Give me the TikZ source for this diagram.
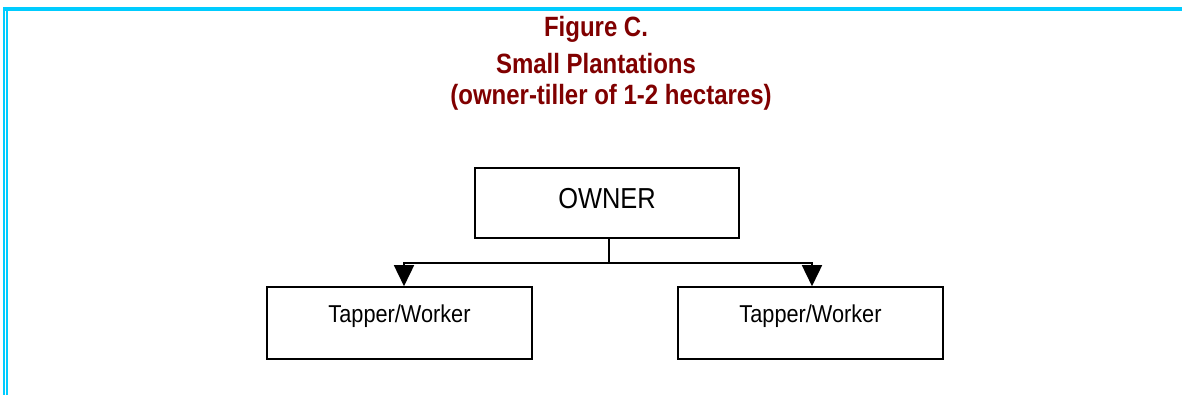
\documentclass[tikz,border=0pt]{standalone}
\usepackage{fontspec}
\usetikzlibrary{arrows.meta}
\setmainfont{Liberation Sans}
\newfontfamily\headfont[FakeStretch=0.86]{Liberation Sans Bold}
\newfontfamily\boxfont[FakeStretch=0.88]{Liberation Sans}
\newfontfamily\workerfont[FakeStretch=0.89]{Liberation Sans}
\definecolor{framecyan}{RGB}{0,204,255}
\definecolor{headred}{RGB}{128,0,0}
\tikzset{
  headline/.style={anchor=base, text=headred, inner sep=0pt, font=\headfont\fontsize{28}{33}\selectfont},
  ownerbox/.style={draw, line width=1.6bp, minimum width=264bp, minimum height=70bp, inner sep=0pt,
    text height=21bp, text depth=11bp, font=\boxfont\fontsize{29}{33}\selectfont},
  workerbox/.style={draw, line width=1.6bp, minimum width=265bp, minimum height=72bp, inner sep=0pt,
    text height=17bp, text depth=19bp, font=\workerfont\fontsize{24.5}{28}\selectfont},
  conn/.style={line width=1.6bp},
  connarrow/.style={conn, -{Triangle[width=20bp,length=21bp]}}
}
\begin{document}
\begin{tikzpicture}[x=1bp, y=-1bp]
  \useasboundingbox (0,0) rectangle (1182,395);
  % cyan frame: top band and double left rule
  \fill[framecyan] (3,7) rectangle (1182,11);
  \fill[framecyan] (3,7) rectangle (5,395);
  \fill[framecyan] (6,11) rectangle (8,395);

  % heading
  \node[headline] (h1) at (596,36.5) {Figure C.};
  \node[headline] (h2) at (596,73) {Small Plantations};
  \node[headline] (h3) at (611,104) {(owner-tiller of 1-2 hectares)};

  % boxes
  \node[ownerbox] (owner) at (607,203) {OWNER};
  \node[workerbox] (tl) at (399.5,323) {Tapper/Worker};
  \node[workerbox] (tr) at (810.5,323) {Tapper/Worker};

  % connectors
  \coordinate (split) at (609,263);
  \draw[conn] (owner.south -| split) -- (split);
  \draw[connarrow] (split) -| ([xshift=4.5bp]tl.north);
  \draw[connarrow] (split) -| ([xshift=1.5bp]tr.north);
\end{tikzpicture}
\end{document}
